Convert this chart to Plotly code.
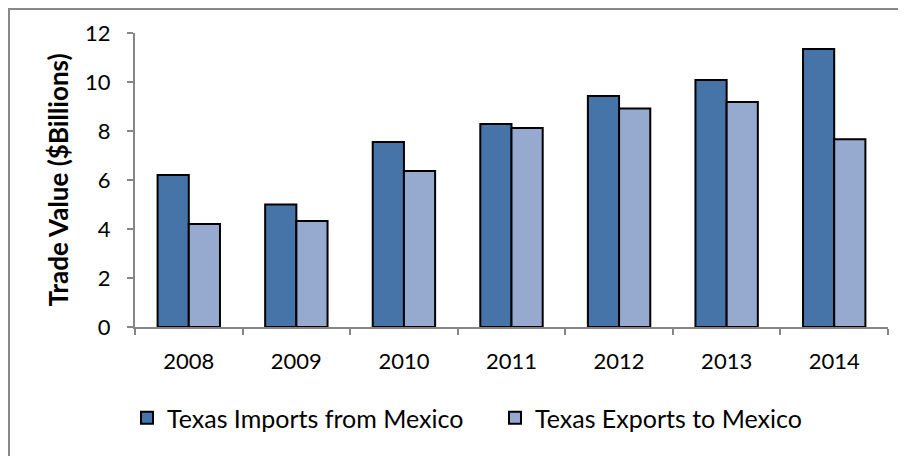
import plotly.graph_objects as go

years = ["2008", "2009", "2010", "2011", "2012", "2013", "2014"]
imports_mx = [6.2, 5.0, 7.55, 8.29, 9.43, 10.08, 11.35]
exports_mx = [4.2, 4.33, 6.37, 8.12, 8.92, 9.18, 7.66]
y_ticks = [0, 2, 4, 6, 8, 10, 12]

# page has an 8px body margin; work in target-pixel coordinates and offset
OFF = 8
W, H = 906 - OFF, 456 - OFF
L, T = 135 - OFF, 33 - OFF
R, B = 906 - 888, 456 - 327
pw, ph = W - L - R, H - T - B

FONT = "Lato"

fig = go.Figure()
fig.add_trace(go.Bar(
    x=years, y=imports_mx, name="Texas Imports from Mexico",
    marker=dict(color="#4674A8", line=dict(color="#000000", width=2)),
))
fig.add_trace(go.Bar(
    x=years, y=exports_mx, name="Texas Exports to Mexico",
    marker=dict(color="#96AAD0", line=dict(color="#000000", width=2)),
))

def px_x(p):
    # p in target-page pixels
    return (p - OFF - L) / pw

def px_y(p):
    return (T + ph - (p - OFF)) / ph

fig.update_layout(
    width=W, height=H,
    margin=dict(l=L, r=R, t=T, b=B, autoexpand=False),
    paper_bgcolor="white", plot_bgcolor="white",
    barmode="group", bargap=0.42, bargroupgap=0,
    font=dict(family=FONT, size=22, color="#000000"),
    showlegend=True,
    legend=dict(
        orientation="h", xref="paper", yref="paper",
        x=px_x(127), xanchor="left", y=px_y(418), yanchor="middle",
        font=dict(family=FONT, size=25, color="#000000"),
        itemwidth=30, tracegroupgap=0, traceorder="normal",
        entrywidth=323, entrywidthmode="pixels",
        bgcolor="rgba(0,0,0,0)",
    ),
    xaxis=dict(
        type="category", showline=True, linecolor="#868686", linewidth=2,
        ticks="outside", ticklen=6, tickcolor="#868686", tickwidth=2,
        tickson="boundaries", showgrid=False, zeroline=False,
        ticklabelstandoff=14,
        tickfont=dict(family=FONT, size=22, color="#000000"),
    ),
    yaxis=dict(
        range=[0, 12], tickvals=y_ticks, ticktext=[str(v) for v in y_ticks],
        showline=True, linecolor="#868686", linewidth=2,
        ticks="outside", ticklen=6, tickcolor="#868686", tickwidth=2,
        showgrid=False, zeroline=False,
        ticklabelstandoff=12,
        tickfont=dict(family=FONT, size=22, color="#000000"),
        title=dict(text="<b>Trade Value ($Billions)</b>", standoff=9,
                   font=dict(family=FONT, size=26, color="#000000")),
    ),
    shapes=[dict(
        type="rect", xref="paper", yref="paper",
        x0=px_x(9), x1=px_x(930), y0=px_y(480), y1=px_y(9),
        line=dict(color="#888888", width=2), fillcolor="rgba(0,0,0,0)",
        layer="below",
    )],
)

fig.write_html("out.html")
